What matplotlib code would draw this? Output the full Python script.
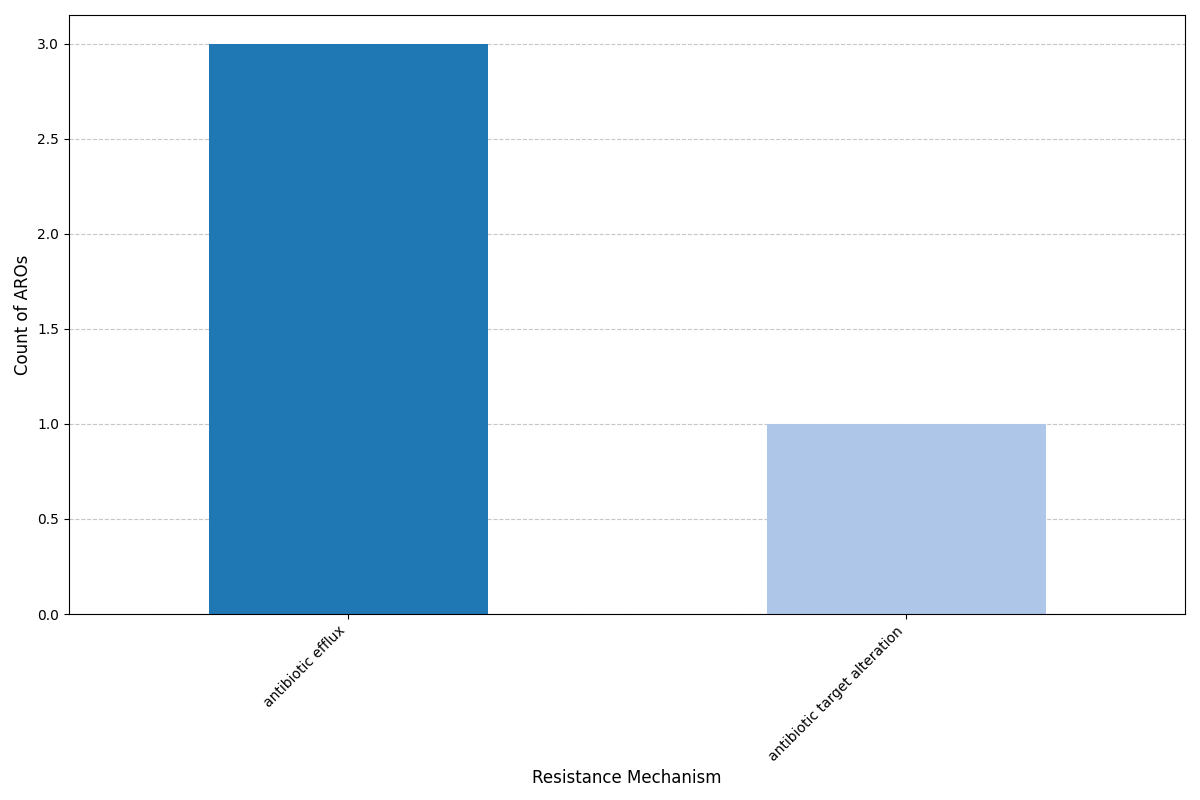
import matplotlib
matplotlib.use("Agg")
import matplotlib.pyplot as plt
import numpy as np

categories = ["antibiotic efflux", "antibiotic target alteration"]
counts = [3, 1]
colors = ["#1f77b4", "#aec7e8"]

fig, ax = plt.subplots(figsize=(12, 8), dpi=100)
x = np.arange(len(categories))
ax.bar(x, counts, width=0.5, color=colors, zorder=2)
ax.set_xlim(-0.5, len(categories) - 0.5)
ax.set_xticks(x)
ax.set_xticklabels(categories, rotation=45, ha="right")
ax.set_xlabel("Resistance Mechanism", fontsize=12)
ax.set_ylabel("Count of AROs", fontsize=12)
ax.grid(axis="y", linestyle="--", alpha=0.7, zorder=3)
fig.subplots_adjust(left=69/1200, right=1185/1200, top=1-15/800, bottom=1-614/800)
fig.savefig("out.png", dpi=100)
